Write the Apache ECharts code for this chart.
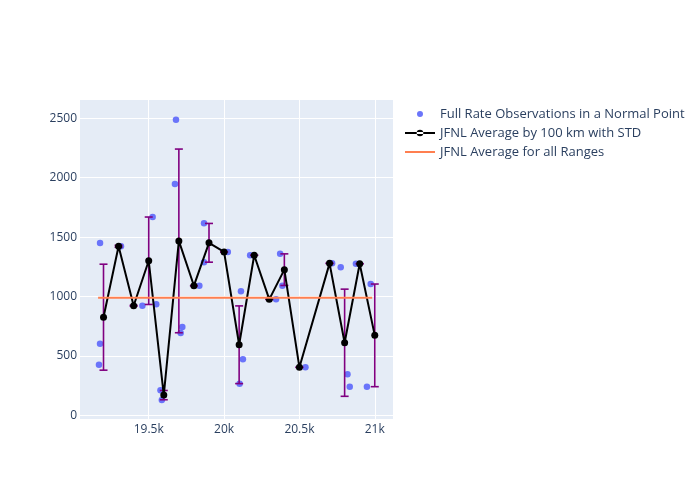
<!DOCTYPE html>
<html>
<head>
<meta charset="utf-8">
<script src="https://cdn.jsdelivr.net/npm/echarts@6/dist/echarts.min.js"></script>
<style>html,body{margin:0;padding:0;background:#fff}#c{width:700px;height:500px}</style>
</head>
<body>
<div id="c"></div>
<script>
// Observations (range in km, value)
const obsX = [19170, 19177, 19177, 19316, 19458, 19526, 19550, 19578, 19587, 19674, 19681, 19712, 19723, 19836, 19867, 19867, 20025, 20103, 20112, 20125, 20173, 20345, 20372, 20387, 20540, 20717, 20774, 20819, 20834, 20875, 20948, 20973];
const obsY = [426, 603, 1450, 1423, 922, 1669, 934, 210, 129, 1947, 2488, 693, 743, 1091, 1616, 1288, 1375, 266, 1044, 471, 1347, 976, 1360, 1091, 404, 1279, 1246, 345, 241, 1276, 241, 1105];
// Averages per 100 km bin with STD
const avgX = [19200, 19300, 19400, 19500, 19600, 19700, 19800, 19900, 20000, 20100, 20200, 20300, 20400, 20500, 20700, 20800, 20900, 21000];
const avgY = [826, 1423, 922, 1301, 170, 1468, 1091, 1452, 1375, 594, 1347, 976, 1226, 404, 1279, 611, 1276, 673];
const avgStd = [446, 8, 4, 368, 39, 773, 0, 163, 0, 327, 0, 0, 133, 0, 0, 451, 0, 432];
// Average over all ranges
const allMean = 990;
const allRange = [19164, 20983];
const xTicks = [19500, 20000, 20500, 21000];
const yTicks = [0, 500, 1000, 1500, 2000, 2500];

const textColor = '#2a3f5f';
const font = '"Open Sans", "DejaVu Sans", Arial, sans-serif';

// legend icons (thin degenerate corner points keep the 30x14 box so shapes are not stretched)
const boxPts = 'M0,0L0.01,0Z M30,14L29.99,14Z ';
const iconDot = 'path://' + boxPts + 'M12,7A3,3,0,1,0,18,7A3,3,0,1,0,12,7Z';
const iconLineDot = 'path://' + boxPts + 'M0,6.1L30,6.1L30,7.9L0,7.9Z M11.7,7A3.3,3.3,0,1,0,18.3,7A3.3,3.3,0,1,0,11.7,7Z';
const iconLine = 'path://' + boxPts + 'M0,6.1L30,6.1L30,7.9L0,7.9Z';

const chart = echarts.init(document.getElementById('c'), null, {renderer: 'canvas'});
const option = {
  backgroundColor: '#ffffff',
  animation: false,
  textStyle: {fontFamily: font},
  grid: {left: 80, top: 100, width: 313, height: 319, show: true, backgroundColor: '#E5ECF6', borderWidth: 0},
  xAxis: {
    type: 'value', min: 19044, max: 21121,
    axisLine: {show: false}, axisTick: {show: false, customValues: xTicks},
    axisLabel: {customValues: xTicks, color: textColor, fontSize: 12, fontFamily: font, margin: 5,
      formatter: v => (v / 1000) + 'k'},
    splitLine: {show: true, lineStyle: {color: '#ffffff', width: 1}}
  },
  yAxis: {
    type: 'value', min: -31, max: 2654,
    axisLine: {show: false}, axisTick: {show: false, customValues: yTicks},
    axisLabel: {customValues: yTicks, color: textColor, fontSize: 12, fontFamily: font, margin: 3,
      formatter: v => String(v)},
    splitLine: {show: true, lineStyle: {color: '#ffffff', width: 1}}
  },
  legend: {
    orient: 'vertical', left: 405, top: 107, itemGap: 5, itemWidth: 30, itemHeight: 14, padding: 0,
    selectedMode: false, symbolKeepAspect: true,
    textStyle: {color: textColor, fontSize: 13, fontFamily: font},
    data: [
      {name: 'Full Rate Observations in a Normal Point', icon: iconDot},
      {name: 'JFNL Average by 100 km with STD', icon: iconLineDot},
      {name: 'JFNL Average for all Ranges', icon: iconLine}
    ]
  },
  series: [
    {
      name: 'Full Rate Observations in a Normal Point', type: 'scatter',
      data: obsX.map((x, i) => [x, obsY[i]]),
      symbolSize: 6.5, itemStyle: {color: '#636EFA', opacity: 0.95}, z: 2
    },
    {
      name: 'errbars', type: 'custom', z: 3,
      data: avgX.map((x, i) => [x, avgY[i] - avgStd[i], avgY[i] + avgStd[i]]),
      renderItem: function (params, api) {
        const lo = api.coord([api.value(0), api.value(1)]);
        const hi = api.coord([api.value(0), api.value(2)]);
        const w = 4;
        const st = {stroke: '#800080', lineWidth: 1.6};
        return {type: 'group', children: [
          {type: 'line', shape: {x1: lo[0], y1: lo[1], x2: hi[0], y2: hi[1]}, style: st},
          {type: 'line', shape: {x1: lo[0] - w, y1: lo[1], x2: lo[0] + w, y2: lo[1]}, style: st},
          {type: 'line', shape: {x1: hi[0] - w, y1: hi[1], x2: hi[0] + w, y2: hi[1]}, style: st}
        ]};
      },
      silent: true
    },
    {
      name: 'JFNL Average by 100 km with STD', type: 'line', z: 4,
      data: avgX.map((x, i) => [x, avgY[i]]),
      symbol: 'circle', symbolSize: 7, showSymbol: true,
      lineStyle: {color: '#000000', width: 2}, itemStyle: {color: '#000000'}
    },
    {
      name: 'JFNL Average for all Ranges', type: 'line', z: 5,
      data: [[allRange[0], allMean], [allRange[1], allMean]],
      symbol: 'none', lineStyle: {color: '#FF7F50', width: 2}, itemStyle: {color: '#FF7F50'}
    }
  ]
};
chart.setOption(option);
</script>
</body>
</html>
